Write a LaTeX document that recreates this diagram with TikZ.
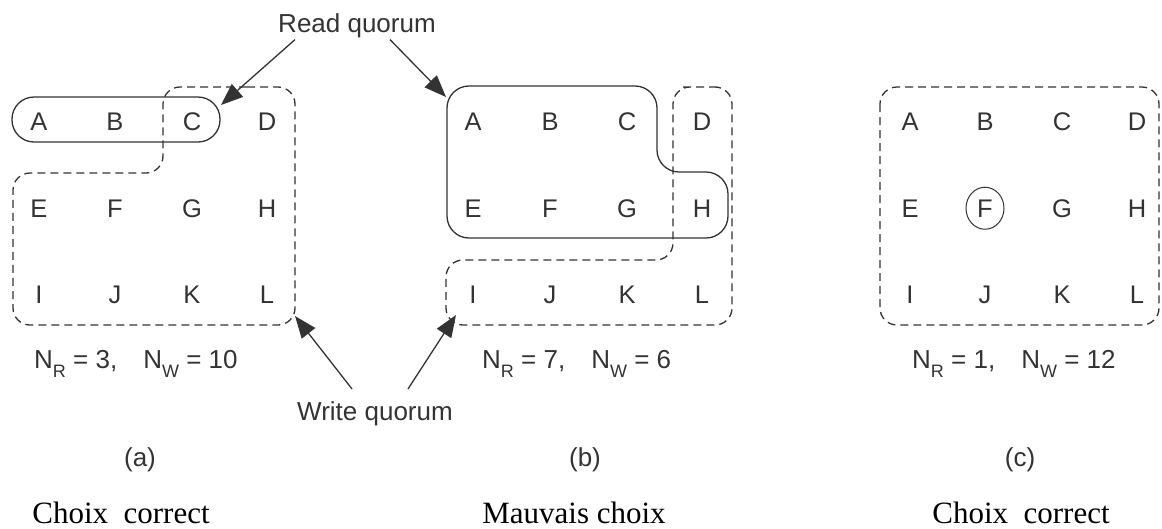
\documentclass[tikz,border=0pt]{standalone}
\usepackage{fontspec}
\setmainfont{Liberation Serif}
\setsansfont{Liberation Sans}
\usepackage{tikz}
\usetikzlibrary{positioning}
\usetikzlibrary{arrows.meta}
\usetikzlibrary{shapes.geometric}
\definecolor{ink}{HTML}{333333}
\newcommand{\lowidx}[1]{\raisebox{-9pt}{\fontsize{18}{20}\selectfont #1}}
\tikzset{x=1pt, y=-1pt,
site/.style={ % Sets the properties for each replica
anchor=base, inner sep=1pt, text=ink,
font=\fontsize{25.5}{30}\sffamily},
tag/.style={ % Quorum names, counts and panel letters
anchor=base, inner sep=2pt, text=ink,
font=\fontsize{26}{31}\sffamily},
verdict/.style={anchor=base, inner sep=0pt,
font=\fontsize{31}{36}\selectfont},
readq/.style={draw=ink, line width=1.3pt, rounded corners=22pt}, % read quorum outline
writeq/.style={draw=ink, line width=1.3pt, dash pattern=on 8pt off 5pt,
rounded corners=17pt}, % write quorum outline
pointer/.style={draw=ink, line width=1.3pt,
-{Triangle[length=22pt,width=17pt]}}}

\begin{document}
\begin{tikzpicture}
\useasboundingbox (0,0) rectangle (1162,528);
% panel (a)
\node[site] (a-A) at (39,130) {A};
\node[site] (a-B) at (115,130) {B};
\node[site] (a-C) at (192,130) {C};
\node[site] (a-D) at (267,130) {D};
\node[site] (a-E) at (39,217) {E};
\node[site] (a-F) at (115,217) {F};
\node[site] (a-G) at (192,217) {G};
\node[site] (a-H) at (267,217) {H};
\node[site] (a-I) at (39,303) {I};
\node[site] (a-J) at (115,303) {J};
\node[site] (a-K) at (192,303) {K};
\node[site] (a-L) at (267,303) {L};
\draw[readq] (12,97) rectangle (220,142);
\draw[writeq] (230,87) -- (295,87) -- (295,325) -- (13,325) -- (13,173) -- (163,173) -- (163,87) -- cycle;
\node[tag, anchor=base west] (a-n) at (32,368) {N\lowidx{R} = 3,\hspace{26pt}N\lowidx{W} = 10};
\node[tag] (a-cap) at (140,466) {(a)};
\node[verdict] (a-verdict) at (121,523) {Choix~ correct};
% panel (b)
\node[site] (b-A) at (473,130) {A};
\node[site] (b-B) at (550,130) {B};
\node[site] (b-C) at (627,130) {C};
\node[site] (b-D) at (702,130) {D};
\node[site] (b-E) at (473,217) {E};
\node[site] (b-F) at (550,217) {F};
\node[site] (b-G) at (627,217) {G};
\node[site] (b-H) at (702,217) {H};
\node[site] (b-I) at (473,303) {I};
\node[site] (b-J) at (550,303) {J};
\node[site] (b-K) at (627,303) {K};
\node[site] (b-L) at (702,303) {L};
\draw[readq] (550,86) -- (657,86) -- (657,172) -- (728,172) -- (728,238) -- (447,238) -- (447,86) -- cycle;
\draw[writeq] (700,87) -- (732,87) -- (732,325) -- (446,325) -- (446,260) -- (673,260) -- (673,87) -- cycle;
\node[tag, anchor=base west] (b-n) at (480,368) {N\lowidx{R} = 7,\hspace{26pt}N\lowidx{W} = 6};
\node[tag] (b-cap) at (585,466) {(b)};
\node[verdict] (b-verdict) at (574,523) {Mauvais choix};
% panel (c)
\node[site] (c-A) at (910,130) {A};
\node[site] (c-B) at (985,130) {B};
\node[site] (c-C) at (1062,130) {C};
\node[site] (c-D) at (1137,130) {D};
\node[site] (c-E) at (910,217) {E};
\node[site, ellipse, draw=ink, line width=1pt, inner sep=0pt,
minimum width=38pt, minimum height=42pt] (c-F) at (985,217) {F};
\node[site] (c-G) at (1062,217) {G};
\node[site] (c-H) at (1137,217) {H};
\node[site] (c-I) at (910,303) {I};
\node[site] (c-J) at (985,303) {J};
\node[site] (c-K) at (1062,303) {K};
\node[site] (c-L) at (1137,303) {L};
\draw[writeq] (880,87) rectangle (1159,325);
\node[tag, anchor=base west] (c-n) at (910,368) {N\lowidx{R} = 1,\hspace{26pt}N\lowidx{W} = 12};
\node[tag] (c-cap) at (1020,466) {(c)};
\node[verdict] (c-verdict) at (1021,523) {Choix~ correct};
% quorum names and their pointers
\node[tag] (read) at (357,32) {Read quorum};
\node[tag] (write) at (375,420) {Write quorum};
\coordinate (a-rtip) at (221,105);
\coordinate (b-rtip) at (446,97);
\coordinate (a-wtip) at (295,316);
\coordinate (b-wtip) at (456,315);
\draw[pointer] ([xshift=-62pt]read.south) -- (a-rtip);
\draw[pointer] ([xshift=33pt]read.south) -- (b-rtip);
\draw[pointer] ([xshift=-23pt,yshift=10pt]write.north) -- (a-wtip);
\draw[pointer] ([xshift=33pt,yshift=10pt]write.north) -- (b-wtip);
\end{tikzpicture}
\end{document}
